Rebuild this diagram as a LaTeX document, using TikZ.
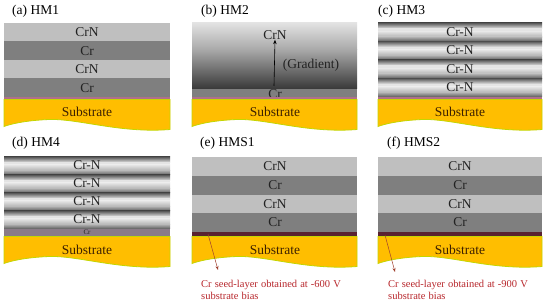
\documentclass[tikz,border=0pt]{standalone}
\usepackage{fontspec}
\setmainfont{Liberation Serif}
\usetikzlibrary{arrows.meta}
\definecolor{crn}{HTML}{BFBFBF}
\definecolor{crc}{HTML}{7F7F7F}
\definecolor{subfill}{HTML}{FFBE00}
\definecolor{subedge}{HTML}{C4D600}
\definecolor{pinkline}{HTML}{B0708A}
\definecolor{seed}{HTML}{5A2230}
\definecolor{mauve}{HTML}{8A7B88}
\definecolor{redtxt}{HTML}{B8282D}
\definecolor{arrowred}{HTML}{A0402E}
\definecolor{subtxt}{HTML}{3D2000}
\definecolor{lbl}{HTML}{222222}
\definecolor{dk}{HTML}{5A5A5A}
\definecolor{md}{HTML}{B0B0B0}
\definecolor{lt}{HTML}{E4E4E4}
\definecolor{gtop}{HTML}{E2E2E2}
\definecolor{gmid}{HTML}{A8A8A8}
\definecolor{gbot}{HTML}{383838}
\newcommand\widesp{\spaceskip=3.1pt plus 1pt\relax}
\tikzset{
  lbl/.style={text=lbl, font=\fontsize{13.5}{16}\selectfont, inner sep=0pt},
  ttl/.style={text=black, font=\fontsize{13.5}{16}\selectfont, inner sep=0pt, anchor=west},
  subtext/.style={text=subtxt, font=\fontsize{13.5}{16}\selectfont, inner sep=0pt},
  substyle/.style={fill=subfill, draw=subedge, line width=0.8pt},
  rednote/.style={text=redtxt, font=\fontsize{10.5}{11.5}\selectfont, inner sep=0pt, anchor=north west, align=left},
  seedarrow/.style={draw=arrowred, line width=0.5pt, -{Stealth[length=4pt,width=3pt]}}
}
\newcommand\subst[3]{%
  \filldraw[substyle] (#1,#3) -- (#2,#3) -- (#2,#3+30)
    .. controls ({#1+0.7*(#2-#1)},#3+34) and ({#1+0.45*(#2-#1)},#3+19) .. ({#1+0.27*(#2-#1)},#3+20)
    .. controls ({#1+0.12*(#2-#1)},#3+21) and ({#1+0.03*(#2-#1)},#3+25) .. (#1,#3+27) -- cycle;}
\newcommand\crnband[4]{%
  \shade[top color=dk, bottom color=lt] (#1,#3) rectangle (#2,#3+5.5);
  \fill[lt] (#1,#3+5.3) rectangle (#2,#4-9.8);
  \shade[top color=lt, bottom color=md] (#1,#4-10) rectangle (#2,#4-4.3);
  \shade[top color=md, bottom color=dk] (#1,#4-4.5) rectangle (#2,#4);}
\begin{document}
\begin{tikzpicture}[x=1pt,y=-1pt]
\useasboundingbox[fill=white] (0,0) rectangle (550,305);

% ---------- (a) HM1
\node[ttl] (ta) at (12,11) {(a) HM1};
\fill[crn] (4,23) rectangle (170,41.5);
\fill[crc] (4,41.5) rectangle (170,60);
\fill[crn] (4,60) rectangle (170,78.5);
\fill[crc] (4,78.5) rectangle (170,97);
\fill[pinkline] (4,97) rectangle (170,99.5);
\subst{4}{170}{99.5}
\node[lbl] (a1) at (87,32.5) {CrN};
\node[lbl] (a2) at (87,51) {Cr};
\node[lbl] (a3) at (87,69.5) {CrN};
\node[lbl] (a4) at (87,88) {Cr};
\node[subtext] (as) at (87,112) {Substrate};

% ---------- (b) HM2
\node[ttl] (tb) at (201,11) {(b) HM2};
\shade[top color=gtop, bottom color=gmid] (192,23) rectangle (357,50);
\shade[top color=gmid, bottom color=gbot] (192,49.8) rectangle (357,89);
\fill[crc] (192,89) rectangle (357,97);
\node[lbl] (b2) at (275,94.5) {Cr};
\fill[pinkline] (192,97) rectangle (357,99.5);
\subst{192}{357}{99.5}
\node[lbl] (b1) at (275,35) {CrN};
\coordinate (bg0) at (274,86);
\draw[-{Stealth[length=4.5pt,width=3.5pt]}, line width=0.6pt] (bg0) -- (b1.south);
\node[lbl] (bg) at (311,65) {(Gradient)};
\node[subtext] (bs) at (275,112) {Substrate};

% ---------- (c) HM3
\node[ttl] (tc) at (378,11) {(c) HM3};
\crnband{378}{542}{23}{41.5}
\crnband{378}{542}{41.5}{60}
\crnband{378}{542}{60}{78.5}
\crnband{378}{542}{78.5}{97}
\fill[pinkline] (378,97) rectangle (542,99.5);
\subst{378}{542}{99.5}
\node[lbl] (c1) at (460,32) {Cr-N};
\node[lbl] (c2) at (460,50.5) {Cr-N};
\node[lbl] (c3) at (460,69) {Cr-N};
\node[lbl] (c4) at (460,87.5) {Cr-N};
\node[subtext] (cs) at (460,112) {Substrate};

% ---------- (d) HM4
\node[ttl] (td) at (12,143) {(d) HM4};
\crnband{4}{170}{157}{175}
\crnband{4}{170}{175}{193}
\crnband{4}{170}{193}{211}
\crnband{4}{170}{211}{229}
\fill[mauve] (4,229) rectangle (170,236.5);
\subst{4}{170}{236.5}
\node[lbl] (d1) at (87,165.5) {Cr-N};
\node[lbl] (d2) at (87,183.5) {Cr-N};
\node[lbl] (d3) at (87,201.5) {Cr-N};
\node[lbl] (d4) at (87,219.5) {Cr-N};
\node[text=lbl, font=\fontsize{7}{8}\selectfont, inner sep=0pt] (d5) at (87,232.5) {Cr};
\node[subtext] (ds) at (87,249.5) {Substrate};

% ---------- (e) HMS1
\node[ttl] (te) at (200,143) {(e) HMS1};
\fill[crn] (192,157) rectangle (357,176);
\fill[crc] (192,176) rectangle (357,195);
\fill[crn] (192,195) rectangle (357,213.5);
\fill[crc] (192,213.5) rectangle (357,232);
\fill[seed] (192,232) rectangle (357,236.5);
\subst{192}{357}{236.5}
\node[lbl] (e1) at (275,166.5) {CrN};
\node[lbl] (e2) at (275,185.5) {Cr};
\node[lbl] (e3) at (275,204) {CrN};
\node[lbl] (e4) at (275,222.5) {Cr};
\node[subtext] (es) at (275,249.5) {Substrate};
\coordinate (ea) at (208,234);
\node[rednote] (en) at (201,280.5) {\widesp Cr seed-layer obtained at -600 V\\\widesp substrate bias};
\coordinate (eb) at (218,270);
\draw[seedarrow] (ea) -- (eb);

% ---------- (f) HMS2
\node[ttl] (tf) at (387,143) {(f) HMS2};
\fill[crn] (378,157) rectangle (542,176);
\fill[crc] (378,176) rectangle (542,195);
\fill[crn] (378,195) rectangle (542,213.5);
\fill[crc] (378,213.5) rectangle (542,232);
\fill[seed] (378,232) rectangle (542,236.5);
\subst{378}{542}{236.5}
\node[lbl] (f1) at (460,166.5) {CrN};
\node[lbl] (f2) at (460,185.5) {Cr};
\node[lbl] (f3) at (460,204) {CrN};
\node[lbl] (f4) at (460,222.5) {Cr};
\node[subtext] (fs) at (460,249.5) {Substrate};
\coordinate (fa) at (385,235);
\node[rednote] (fn) at (388,280.5) {\widesp Cr seed-layer obtained at -900 V\\\widesp substrate bias};
\coordinate (fb) at (395,272);
\draw[seedarrow] (fa) -- (fb);
\end{tikzpicture}
\end{document}
